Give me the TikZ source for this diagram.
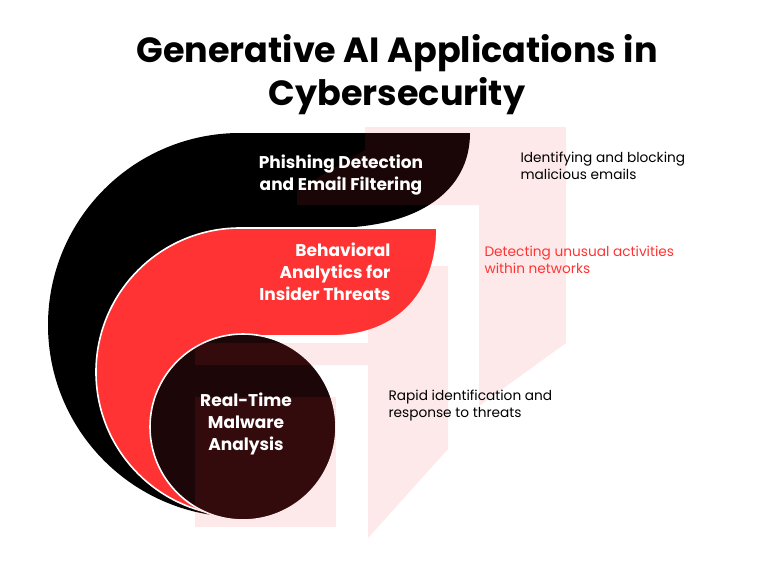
\documentclass[tikz,border=0pt]{standalone}
\usepackage{fontspec}
\setmainfont{Poppins}
\usetikzlibrary{positioning}
\definecolor{hotred}{HTML}{FF3333}
\definecolor{inkred}{HTML}{1C0607}
\definecolor{wash}{HTML}{F03A3A}
\tikzset{
  band/.style={draw=white,line width=1.6pt},
  lbl/.style={text=white,font=\fontsize{17}{22}\selectfont\bfseries,align=center},
  desc/.style={font=\fontsize{13.7}{17}\selectfont,align=left,anchor=north west},
  mark3d/.style={fill=wash,fill opacity=.11,draw=none}
}
\begin{document}
\begin{tikzpicture}[x=1pt,y=-1pt]
\useasboundingbox (0,0) rectangle (757,576);
% Title
\node[font=\fontsize{35}{43}\selectfont\bfseries,align=center] (title) at (397,75) {Generative AI Applications in\\Cybersecurity};
% Outer black band
\fill[black] (240,133) -- (470,133) .. controls (470,190) and (420,228) .. (330,228) -- (240,228) -- (240,517)
  arc[start angle=90,end angle=270,radius=192] -- cycle;
% Red band
\path[fill=hotred,band] (240,228) -- (437,228) .. controls (437,290) and (400,336) .. (330,336) -- (240,336) -- (240,516)
  arc[start angle=90,end angle=270,radius=144] -- cycle;
% Inner dark circle
\path[fill=inkred,band] (243,427) circle (93);
% Faint backdrop blocks
\fill[mark3d] (365,127) -- (566,127) -- (566,343) -- (479,406) -- (479,205) -- (297,205) -- (297,190) -- (365,150) -- cycle;
\fill[mark3d] (368,266) -- (448,266) -- (448,449) -- (368,538) -- (368,365) -- (195,365) -- (195,343) -- (368,343) -- cycle;
\fill[mark3d] (195,397) rectangle (336,527);
% Labels
\node[lbl] (phish) at (341,175) {Phishing Detection\\and Email Filtering};
\node[lbl,align=right,anchor=east] (behav) at (394,272) {Behavioral\\Analytics for\\Insider Threats};
\node[lbl] (malw) at (246,424) {Real-Time\\Malware\\Analysis};
% Descriptions
\node[desc] (dphish) at (517,148) {Identifying and blocking\\malicious emails};
\node[desc,text=hotred] (dbehav) at (481,243) {Detecting unusual activities\\within networks};
\node[desc] (dmalw) at (385,386) {Rapid identification and\\response to threats};
\end{tikzpicture}
\end{document}
